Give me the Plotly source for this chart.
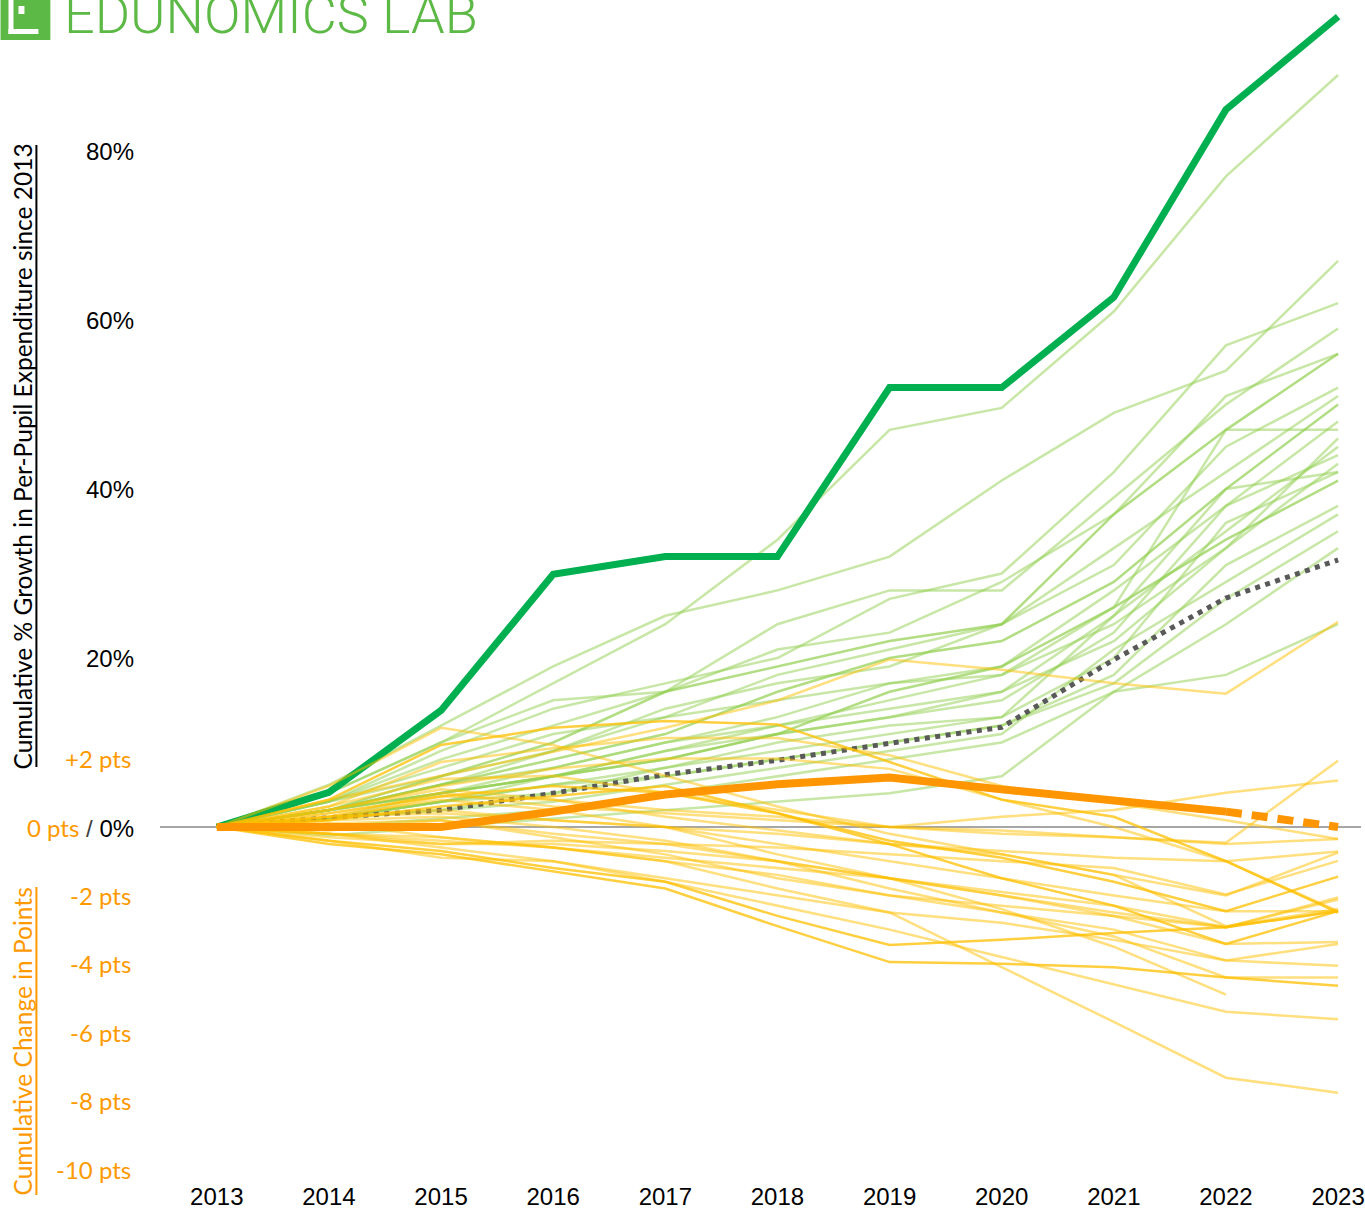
import plotly.graph_objects as go

years = [2013, 2014, 2015, 2016, 2017, 2018, 2019, 2020, 2021, 2022, 2023]
year_labels = [str(y) for y in years]

# Highlighted state: cumulative % growth in per-pupil expenditure
focus_spend = [0, 4.1, 13.8, 29.9, 32.0, 32.0, 52.0, 52.0, 62.7, 84.9, 95.9]
# Average spending growth (dotted)
avg_spend = [0, 1.1, 2.0, 4.0, 6.2, 7.9, 9.9, 11.8, 19.8, 27.1, 31.6]
# Highlighted state: cumulative change in points (2023 shown dashed)
focus_points = [0, 0, 0, 0.45, 0.95, 1.25, 1.45, 1.1, 0.8, 0.45]
focus_points_proj = [0.45, 0]

# Other states: spending growth (%)
spend_lines = [
    [0, 4, 10, 17, 24, 34, 47, 49.6, 61, 77, 89],
    [0, 5, 12, 19, 25, 28, 32, 41, 49, 54, 67],
    [0, 3, 9, 14, 17, 20, 27, 30, 42, 57, 62],
    [0, 4, 10, 15, 16, 24, 28, 28, 39, 50, 59],
    [0, 2, 6, 10, 16, 19, 22, 24, 37, 47, 56],
    [0, 3, 8, 12, 16, 21, 23, 29, 37, 51, 56],
    [0, 3, 6, 9, 13, 18, 21, 24, 31, 45, 52],
    [0, 2, 5, 9, 14, 17, 19, 24, 33, 42, 51],
    [0, 2, 5, 8, 11, 16, 20, 22, 29, 40, 50],
    [0, 2, 4, 7, 10, 13, 17, 19, 28, 38, 48],
    [0, 1, 4, 6, 9, 12, 15, 18, 26, 47, 47],
    [0, 2, 5, 7, 10, 12, 14, 16, 25, 35, 45],
    [0, 1, 3, 6, 8, 11, 13, 15, 23, 38, 44],
    [0, 2, 4, 6, 9, 11, 13, 16, 22, 33, 43],
    [0, 1, 3, 5, 7, 10, 12, 13, 25, 40, 42],
    [0, 1, 3, 4, 7, 9, 11, 13, 20, 36, 42],
    [0, 2, 4, 6, 8, 11, 16, 19, 26, 34, 41],
    [0, 1, 2, 4, 6, 8, 10, 12, 18, 31, 38],
    [0, 1, 2, 3, 5, 7, 9, 11, 21, 29, 37],
    [0, 1, 3, 5, 6, 8, 10, 12, 17, 27, 35],
    [0, 0, 1, 2, 4, 6, 8, 10, 16, 24, 33],
    [0, -1, 0, 1, 2, 3, 4, 6, 16, 18, 24],
    [0, 3, 7, 11, 13, 15, 17, 18, 24, 33, 46],
]

# Other states: cumulative change in points
points_lines = [
    [0, 0.8, 1.5, 2.2, 2.9, 3.7, 4.9, 4.6, 4.2, 3.9, 6.0],
    [0, 1.2, 2.9, 2.4, 1.5, 0.6, -0.2, -0.8, -1.4, -2.9, -2.4],
    [0, 0.8, 2.4, 2.9, 3.1, 3.0, 1.9, 0.8, 0.3, -1.0, -2.5],
    [0, 0.3, 1.0, 0.6, 0.4, 0.2, 0.0, 0.3, 0.5, 1.0, 1.36],
    [0, 0.2, 0.9, 0.8, 0.5, 0.3, 0.0, -0.1, -0.3, -0.46, 1.94],
    [0, 0.6, 1.4, 1.5, 1.0, 0.5, 0.0, -0.2, -0.3, -0.5, -0.35],
    [0, 0.3, 0.4, 0.2, 0.0, -0.2, -0.5, -0.7, -0.9, -1.0, -0.72],
    [0, 0.5, 1.1, 0.8, 0.3, -0.1, -0.5, -0.8, -1.4, -2.0, -0.75],
    [0, -0.2, -0.5, -0.4, -0.5, -0.6, -0.8, -1.0, -1.2, -1.97, -0.99],
    [0, 0.4, 0.9, 1.2, 1.0, 0.4, -0.4, -0.9, -1.6, -2.46, -1.45],
    [0, -0.3, -0.5, -0.5, -0.7, -1.0, -1.5, -1.9, -2.3, -2.93, -2.06],
    [0, 0.1, 0.2, -0.2, -0.5, -1.0, -1.5, -2.0, -2.5, -2.93, -2.12],
    [0, 0.3, 0.5, 0.2, 0.0, -0.5, -1.0, -1.5, -2.0, -2.46, -2.46],
    [0, -0.2, -0.3, -0.6, -1.0, -1.4, -2.0, -2.3, -2.6, -2.93, -2.46],
    [0, 0.2, 0.6, 0.9, 1.2, 0.4, -0.5, -1.5, -2.3, -3.42, -2.46],
    [0, 0.1, -0.3, -0.6, -0.9, -1.2, -1.5, -2.0, -2.6, -3.42, -3.36],
    [0, -0.4, -0.9, -1.0, -1.5, -2.0, -2.5, -2.8, -3.3, -3.9, -3.42],
    [0, -0.1, 0.2, -0.3, -0.8, -1.5, -2.0, -2.5, -3.0, -3.9, -4.06],
    [0, 0.2, 0.3, 0.0, -0.4, -1.0, -1.8, -2.5, -3.2, -4.4, -4.4],
    [0, -0.4, -0.7, -1.2, -1.6, -2.6, -3.45, -3.3, -3.1, -2.93, -2.46],
    [0, -0.5, -0.8, -1.3, -1.8, -2.9, -3.95, -4.0, -4.1, -4.4, -4.64],
    [0, -0.2, -0.6, -1.0, -1.6, -2.3, -3.0, -3.8, -4.6, -5.4, -5.62],
    [0, -0.2, -0.4, -0.6, -1.0, -1.8, -2.5, -4.1, -5.7, -7.33, -7.77],
    [0, 0.3, 0.8, 0.5, 0.0, -0.8, -1.5, -2.4, -3.5, -4.9, None],
    [0, 0.5, 1.2, 1.7, 2.0, 2.0, 1.7, 0.8, 0.0, -1.0, -2.46],
    [0, 0.6, 1.9, 2.3, 2.6, 2.6, 2.1, 1.2, 0.7, 0.2, -0.35],
]

pct_ticks = [20, 40, 60, 80]
pts_ticks = [2, -2, -4, -6, -8, -10]

# pixel geometry of the plotting area
W, H = 1365, 1211
L, T, B = 160, 0, 31
PW, PH = W - L, H - T - B
PX_PER_PCT = 8.45
PX_PER_PT = 34.2
ZERO_PX = 827
pct_top = (ZERO_PX - T) / PX_PER_PCT
pct_bot = -(T + PH - ZERO_PX) / PX_PER_PCT
pts_top = pct_top * PX_PER_PCT / PX_PER_PT
pts_bot = pct_bot * PX_PER_PCT / PX_PER_PT
PX_PER_YEAR = 112.5
x_lo = 2013 - (217 - L) / PX_PER_YEAR
x_hi = x_lo + PW / PX_PER_YEAR


def px(xp):
    return (xp - L) / PW


def py(yp):
    return 1 - (yp - T) / PH


fig = go.Figure()

for i, s in enumerate(points_lines):
    op = 0.75 if i in (2, 9, 14, 19, 20) else 0.5
    fig.add_trace(go.Scatter(x=years, y=s, yaxis="y2", mode="lines",
                             line=dict(color="#FFC000", width=2.5),
                             opacity=op, hoverinfo="skip", showlegend=False))

for i, s in enumerate(spend_lines):
    op = 0.7 if i in (4, 8, 16) else 0.5
    fig.add_trace(go.Scatter(x=years, y=s, mode="lines",
                             line=dict(color="#92D050", width=2.5),
                             opacity=op, hoverinfo="skip", showlegend=False))

fig.add_trace(go.Scatter(x=years[:len(focus_points)], y=focus_points, yaxis="y2",
                         mode="lines", line=dict(color="#FF9500", width=8),
                         showlegend=False))
fig.add_trace(go.Scatter(x=years[-2:], y=focus_points_proj, yaxis="y2",
                         mode="lines", line=dict(color="#FF9500", width=8, dash="16px,10px"),
                         showlegend=False))
fig.add_trace(go.Scatter(x=years, y=focus_spend, mode="lines",
                         line=dict(color="#00B050", width=7), showlegend=False))
fig.add_trace(go.Scatter(x=years, y=avg_spend, mode="lines",
                         line=dict(color="#595959", width=5, dash="5px,5.5px"),
                         showlegend=False))

annotations = []
for v in pct_ticks:
    annotations.append(dict(x=px(136), xref="paper", y=v, yref="y", xanchor="right",
                            yanchor="middle", showarrow=False, text=f"{v}%",
                            font=dict(family="Liberation Sans, Arial", size=24, color="#000000")))
for v in pts_ticks:
    lbl = f"+{v} pts" if v > 0 else f"{v} pts"
    annotations.append(dict(x=px(133), xref="paper", y=v, yref="y2", xanchor="right",
                            yanchor="middle", showarrow=False, text=lbl,
                            font=dict(family="Lato, Open Sans", size=24, color="#FF9900")))
annotations.append(dict(x=px(136), xref="paper", y=0, yref="y", xanchor="right",
                        yanchor="middle", showarrow=False,
                        text="<span style='color:#FF9900;font-family:Lato'>0 pts</span>"
                             "<span style='color:#404040'> / </span>0%",
                        font=dict(family="Liberation Sans, Arial", size=24, color="#000000")))
annotations.append(dict(x=px(22), xref="paper", y=py(456), yref="paper", xanchor="center",
                        yanchor="middle", showarrow=False, textangle=-90,
                        text="Cumulative % Growth in Per-Pupil Expenditure since 2013",
                        font=dict(family="Lato, Open Sans", size=24.5, color="#000000")))
annotations.append(dict(x=px(22), xref="paper", y=py(1041), yref="paper", xanchor="center",
                        yanchor="middle", showarrow=False, textangle=-90,
                        text="Cumulative Change in Points",
                        font=dict(family="Lato, Open Sans", size=24.5, color="#FF9900")))
annotations.append(dict(x=px(62), xref="paper", y=py(15), yref="paper", xanchor="left",
                        yanchor="middle", showarrow=False, text="EDUNOMICS LAB",
                        font=dict(family="Roboto", size=54, color="#5DB946", weight=300)))

shapes = [
    dict(type="line", xref="paper", yref="y", x0=0, x1=1, y0=0, y1=0,
         line=dict(color="#A6A6A6", width=2), layer="below"),
    dict(type="line", xref="paper", yref="paper", x0=px(36), x1=px(36), y0=py(145), y1=py(767),
         line=dict(color="#000000", width=2)),
    dict(type="line", xref="paper", yref="paper", x0=px(36), x1=px(36), y0=py(887), y1=py(1195),
         line=dict(color="#FF9900", width=2)),
    dict(type="rect", xref="paper", yref="paper", x0=px(0), x1=px(50), y0=py(-5), y1=py(40),
         fillcolor="#5DB946", line=dict(width=0)),
    dict(type="rect", xref="paper", yref="paper", x0=px(8), x1=px(13), y0=py(-5), y1=py(34),
         fillcolor="#FFFFFF", line=dict(width=0)),
    dict(type="rect", xref="paper", yref="paper", x0=px(8), x1=px(38), y0=py(29), y1=py(34),
         fillcolor="#FFFFFF", line=dict(width=0)),
    dict(type="rect", xref="paper", yref="paper", x0=px(18), x1=px(24), y0=py(6), y1=py(14),
         fillcolor="#FFFFFF", line=dict(width=0)),
]

fig.update_layout(
    width=W, height=H,
    margin=dict(l=L, r=0, t=T, b=B),
    paper_bgcolor="white", plot_bgcolor="white",
    xaxis=dict(range=[x_lo, x_hi], tickvals=years, ticktext=year_labels,
               showgrid=False, zeroline=False, showline=False, ticks="",
               ticklabeloverflow="allow",
               tickfont=dict(family="Liberation Sans, Arial", size=24, color="#000000")),
    yaxis=dict(range=[pct_bot, pct_top], showgrid=False, zeroline=False,
               showticklabels=False, showline=False, ticks=""),
    yaxis2=dict(range=[pts_bot, pts_top], overlaying="y", showgrid=False, zeroline=False,
                showticklabels=False, showline=False, ticks=""),
    annotations=annotations,
    shapes=shapes,
    showlegend=False,
)

fig.write_html("out.html", config={"displayModeBar": False},
               post_script="document.body.style.margin='0px';document.body.style.overflow='hidden';")
